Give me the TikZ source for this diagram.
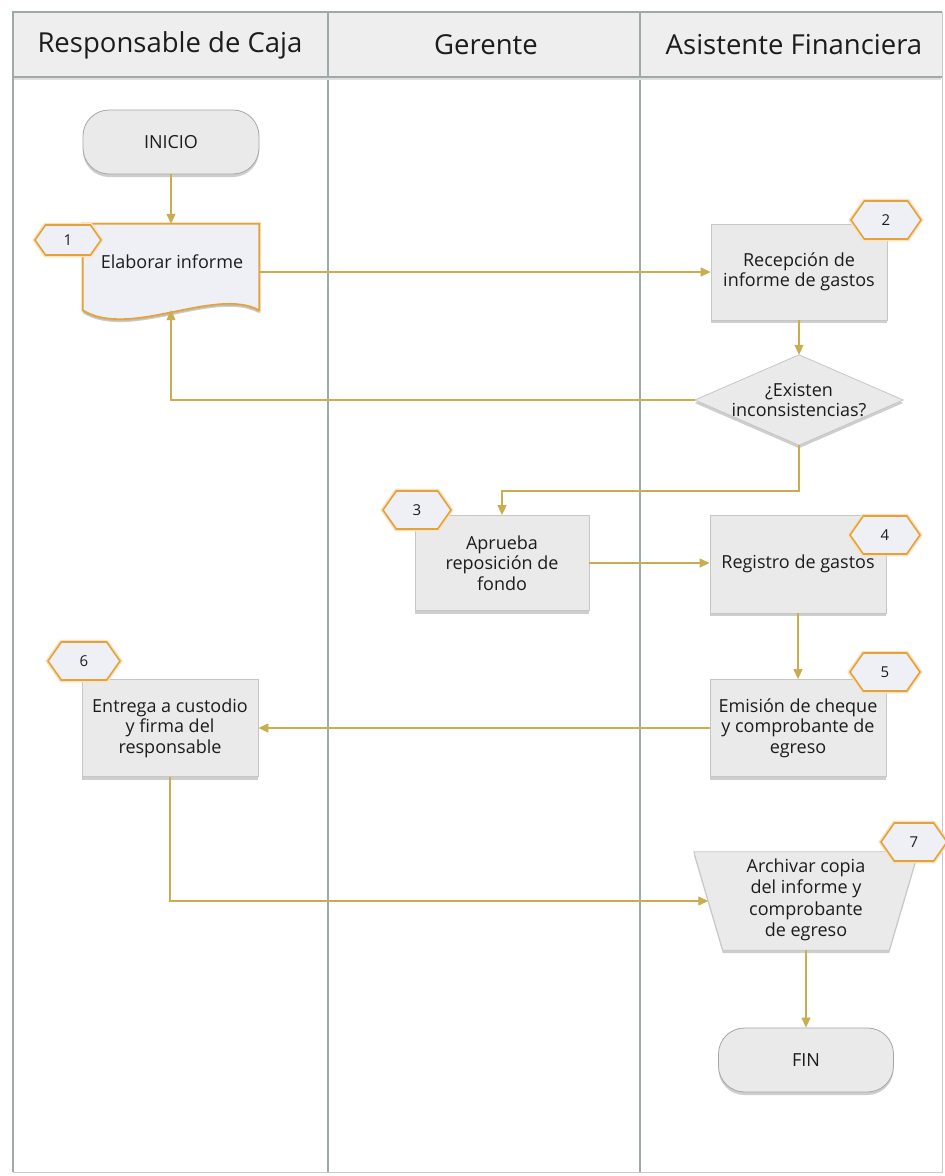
\documentclass[tikz,border=0pt]{standalone}
\usepackage{fontspec}
\setmainfont{Open Sans}
\usetikzlibrary{shapes.geometric,shapes.symbols,arrows.meta,shadows,calc}

\definecolor{lane}{HTML}{9EA9A9}
\definecolor{hdrfill}{HTML}{EEEEEE}
\definecolor{flow}{HTML}{C9AD4F}
\definecolor{mark}{HTML}{E3A33A}
\definecolor{boxfill}{HTML}{EAEAEA}
\definecolor{boxline}{HTML}{C6C6C6}
\definecolor{docfill}{HTML}{EEF0F6}
\definecolor{ink}{HTML}{1C1C1C}

\begin{document}
\begin{tikzpicture}[x=1pt,y=-1pt,
  every node/.style={text=ink, font=\fontsize{18}{20.5}\selectfont},
  hdrtext/.style={font=\fontsize{27.5}{32}\selectfont},
  boxshadow/.style={drop shadow={shadow xshift=0pt, shadow yshift=-3pt, opacity=0.35, fill=black!55}},
  procbox/.style={rectangle, draw=boxline, fill=boxfill, line width=0.8pt,
    minimum width=176, minimum height=96, align=center, inner sep=2pt, boxshadow},
  termbox/.style={rectangle, rounded corners=26pt, draw=black!35, fill=boxfill, line width=0.8pt,
    minimum width=176, minimum height=64, align=center, boxshadow, font=\fontsize{18}{21}\selectfont},
  hexmark/.style={signal, signal to=east and west, signal pointer angle=110,
    draw=mark, line width=1.6pt, fill=docfill, minimum width=70, minimum height=38,
    inner sep=0pt, preaction={draw=mark!30, line width=4.5pt}, font=\fontsize{15}{18}\selectfont},
  ghost/.style={rectangle, inner sep=0pt, align=center},
  flowline/.style={draw=flow, line width=1.3pt, -{Triangle[length=10pt,width=9pt]}},
]
\useasboundingbox (0,0) rectangle (945,1176);
\fill[white] (0,0) rectangle (945,1176);

% header row and lanes
\fill[hdrfill] (13,12) rectangle (942,77);
\draw[lane!60, line width=1pt] (942,12) -- (942,1172) -- (13,1172);
\draw[lane, line width=1.3pt] (942,12) -- (13,12) -- (13,1172);
\draw[lane, line width=1.3pt] (328,12) -- (328,1172);
\draw[lane, line width=1.3pt] (640,12) -- (640,1172);
\draw[lane, line width=1.3pt] (13,77) -- (942,77);
\draw[black!12, line width=1.5pt] (14,79) -- (941,79);

\node[hdrtext] (h1) at (170,45) {Responsable de Caja};
\node[hdrtext] (h2) at (486,45) {Gerente};
\node[hdrtext] (h3) at (794,45) {Asistente Financiera};

% lane 1
\node[termbox] (inicio) at (171,142) {INICIO};

\node[ghost, minimum width=176, minimum height=86] (elab) at (171,267) {};
\path[draw=mark, line width=1.6pt, fill=docfill, preaction={draw=mark!30, line width=4pt}, boxshadow]
  (elab.north west) -- (elab.north east) -- (elab.south east)
  .. controls ($(elab.south east)+(-44,-24)$) and ($(elab.south west)+(47,29)$) .. (elab.south west) -- cycle;
\node (elabtxt) at (172,262) {Elaborar informe};
\node[hexmark, minimum width=66, minimum height=30] (n1) at (68,240) {1};

\node[procbox, minimum height=97] (entrega) at (170,728) {Entrega a custodio\\y firma del\\responsable};
\node[hexmark, minimum width=72] (n6) at (84,661) {6};

% lane 2
\node[procbox, minimum width=174, minimum height=95] (aprueba) at (502,563) {Aprueba\\reposición de\\fondo};
\node[hexmark, minimum width=68] (n3) at (417,510) {3};

% lane 3
\node[procbox] (recep) at (799,272) {Recepción de\\informe de gastos};
\node[hexmark] (n2) at (886,220) {2};

\node[ghost, minimum width=208, minimum height=90] (dec) at (799,400) {};
\path[draw=boxline, fill=boxfill, line width=0.8pt, boxshadow]
  (dec.north) -- (dec.east) -- (dec.south) -- (dec.west) -- cycle;
\node[align=center] (dectxt) at (799,400) {¿Existen\\inconsistencias?};

\node[procbox, minimum height=98] (registro) at (798,564) {Registro de gastos};
\node[hexmark] (n4) at (885,535) {4};

\node[procbox, minimum height=97] (emision) at (798,728) {Emisión de cheque\\y comprobante de\\egreso};
\node[hexmark] (n5) at (885,672) {5};

\node[ghost, minimum width=224, minimum height=98] (archivar) at (806,901) {};
\path[draw=boxline, fill=boxfill, line width=0.8pt, boxshadow]
  (archivar.north west) -- (archivar.north east) -- ($(archivar.south east)+(-29,0)$)
  -- ($(archivar.south west)+(29,0)$) -- cycle;
\node[align=center, font=\fontsize{18}{21.5}\selectfont] (archtxt) at (806,900) {Archivar copia\\del informe y\\comprobante\\de egreso};
\coordinate (archin) at ($(archivar.west)+(14.5,0)$);
\node[hexmark, minimum width=66] (n7) at (914,842) {7};

\node[termbox, minimum width=175] (fin) at (806,1060) {FIN};

% connectors
\draw[flowline] (inicio.south) -- (elab.north);
\draw[flowline] (elab.east |- recep.west) -- (recep.west);
\draw[flowline] (recep.south) -- (dec.north);
\draw[flowline] (dec.west) -| (elab.south);
\draw[flowline] (dec.south) |- ($(aprueba.north)+(0,-24)$) -- (aprueba.north);
\draw[flowline] (aprueba.east) -- (aprueba.east -| registro.west);
\draw[flowline] (registro.south) -- (emision.north);
\draw[flowline] (emision.west) -- (emision.west -| entrega.east);
\draw[flowline] (entrega.south) |- (archin);
\draw[flowline] (archivar.south) -- (fin.north);
\end{tikzpicture}
\end{document}
